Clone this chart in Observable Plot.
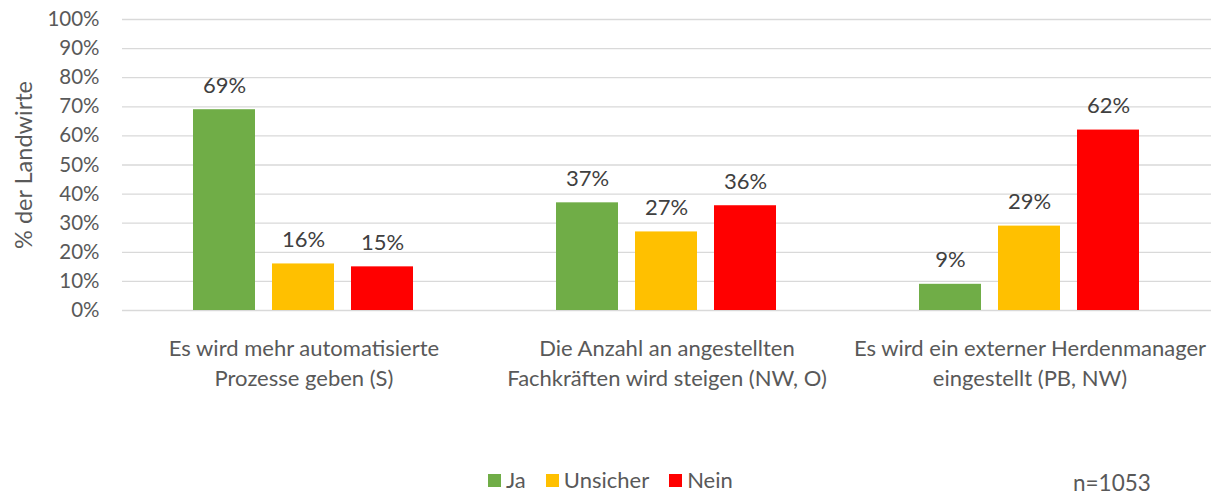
<!DOCTYPE html>
<html><head><meta charset="utf-8">
<script src="https://cdn.jsdelivr.net/npm/d3@7"></script>
<script src="https://cdn.jsdelivr.net/npm/@observablehq/plot@0.6"></script>
<style>
body{margin:0;background:#fff;font-family:Lato,sans-serif}
#wrap{position:relative;width:1220px;height:497px;overflow:hidden}
#legend{position:absolute;left:488px;top:473px;height:14px;display:flex;align-items:center;font-size:22px;color:#595959;line-height:14px;white-space:nowrap}
#legend .sw{width:13px;height:13px;margin-right:5px;display:inline-block}
#legend .lab{margin-right:20px}
#nlabel{position:absolute;left:1073px;top:473px;font-size:22.5px;line-height:20px;color:#595959;white-space:nowrap}
</style></head><body>
<div id="wrap"><div id="chart"></div><div id="legend"></div><div id="nlabel"></div></div>
<script>
const categories = [
  "Es wird mehr automatisierte\nProzesse geben (S)",
  "Die Anzahl an angestellten\nFachkräften wird steigen (NW, O)",
  "Es wird ein externer Herdenmanager\neingestellt (PB, NW)"
];
const answers = ["Ja", "Unsicher", "Nein"];
const ja = [0.69, 0.37, 0.09];
const unsicher = [0.16, 0.27, 0.29];
const nein = [0.15, 0.36, 0.62];
const colors = ["#70AD47", "#FFC000", "#FF0000"];
const yTicks = [0, 0.1, 0.2, 0.3, 0.4, 0.5, 0.6, 0.7, 0.8, 0.9, 1.0];
const yLabel = "% der Landwirte";
const sampleLabel = "n=1053";

const series = [ja, unsicher, nein];
const data = categories.flatMap((c, i) => answers.map((a, j) => ({category: c, answer: a, value: series[j][i]})));
const pct = v => Math.round(v * 100) + "%";

const chart = Plot.plot({
  width: 1220, height: 460,
  marginLeft: 121, marginRight: 8, marginTop: 19, marginBottom: 150,
  style: {fontFamily: "Lato, sans-serif", background: "#fff", overflow: "visible"},
  fx: {domain: categories, padding: 0},
  x: {domain: answers, paddingInner: 0.2125, paddingOuter: 0.88125, axis: null},
  y: {domain: [0, 1]},
  color: {domain: answers, range: colors},
  marks: [
    Plot.gridY(yTicks, {stroke: "#d9d9d9", strokeOpacity: 1, strokeWidth: 1.3}),
    Plot.barY(data, {fx: "category", x: "answer", y: "value", fill: "answer"}),
    Plot.text(data, {fx: "category", x: "answer", y: "value", text: d => pct(d.value), dy: -24, fontSize: 22, fill: "#404040"}),
    Plot.axisY({ticks: yTicks, tickSize: 0, tickPadding: 23, tickFormat: pct, fontSize: 20.5, fill: "#595959", label: null}),
    Plot.axisY({ticks: [], tickSize: 0, fontSize: 23.5, fill: "#595959",
      label: yLabel, labelAnchor: "center", labelArrow: "none", labelOffset: 107}),
    Plot.axisFx({anchor: "bottom", tickSize: 0, tickPadding: 24.5, label: null, fontSize: 22, lineHeight: 30 / 22, fill: "#595959"})
  ]
});
document.getElementById("chart").appendChild(chart);

const legend = document.getElementById("legend");
answers.forEach((a, j) => {
  const sw = document.createElement("span"); sw.className = "sw"; sw.style.background = colors[j];
  const lab = document.createElement("span"); lab.className = "lab"; lab.textContent = a;
  legend.appendChild(sw); legend.appendChild(lab);
});
document.getElementById("nlabel").textContent = sampleLabel;
</script>
</body></html>
